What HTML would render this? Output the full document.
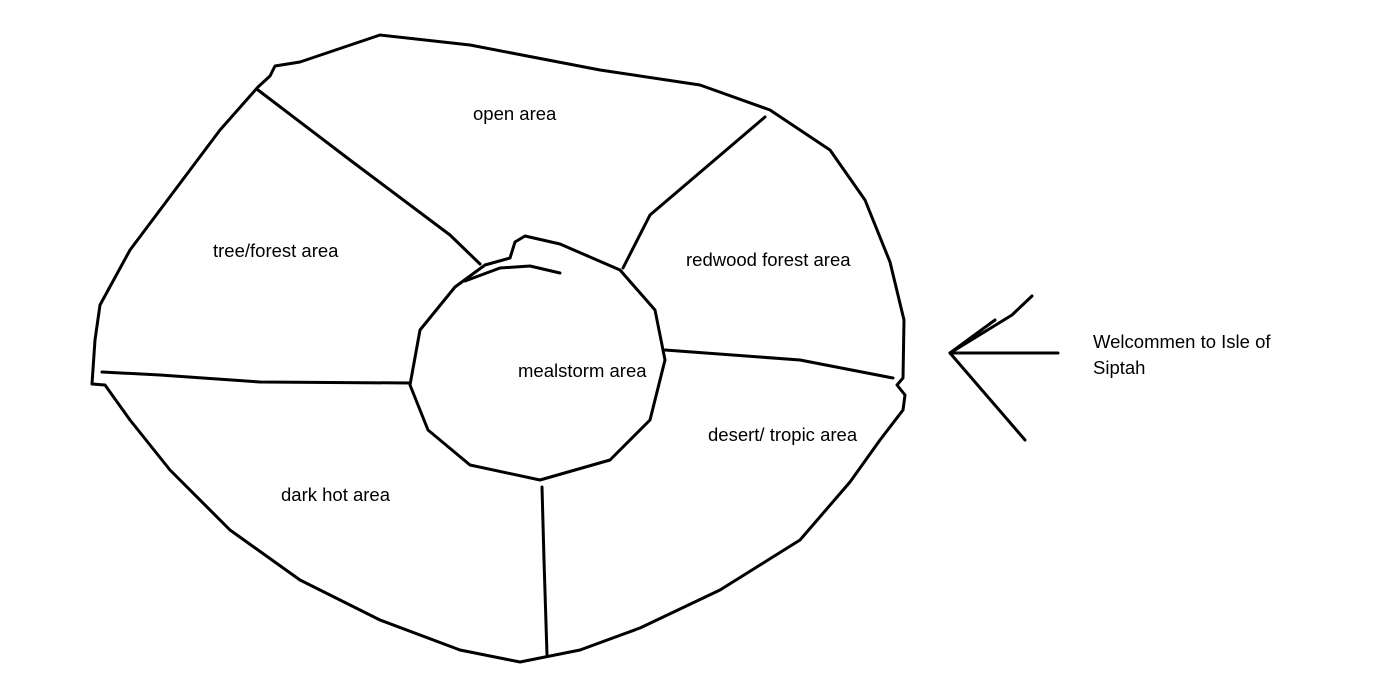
<!DOCTYPE html>
<html><head><meta charset="utf-8"><style>
html,body{margin:0;padding:0;background:#fff;}
svg{display:block;}
text{font-family:"Liberation Sans",sans-serif;font-size:18.5px;fill:#000;}
</style></head><body>
<svg width="1375" height="683" viewBox="0 0 1375 683" xmlns="http://www.w3.org/2000/svg">
<g fill="none" stroke="#000" stroke-width="3" stroke-linejoin="round" stroke-linecap="round">
<path d="M270,76 L275,66 L300,62 L380,35 L470,45 L600,70 L700,85 L770,110 L830,150 L865,200 L890,262 L904,320 L903,378 L897,385 L905,395 L903,410 L880,440 L850,482 L800,540 L720,590 L640,628 L580,650 L520,662 L460,650 L380,620 L300,580 L230,530 L170,470 L130,420 L105,385 L92,384 L95,340 L100,305 L130,250 L175,190 L220,130 L258,87 Z"/>
<path d="M485,265 L510,258 L515,242 L525,236 L560,244 L620,270 L655,310 L665,360 L650,420 L610,460 L540,480 L470,465 L428,430 L410,385 L420,330 L455,287 Z"/>
<path d="M465,281 L500,268 L530,266 L560,273"/>
<path d="M258,90 L350,160 L450,235 L480,264"/>
<path d="M765,117 L650,215 L623,268"/>
<path d="M665,350 L800,360 L893,378"/>
<path d="M102,372 L160,375 L260,382 L410,383"/>
<path d="M542,487 L544,560 L547,655"/>
<path d="M950,353 L1058,353"/>
<path d="M950,353 L1025,440"/>
<path d="M950,353 L995,320"/>
<path d="M955,350 L1012,315 L1032,296"/>
</g>
<text x="473" y="120">open area</text>
<text x="213" y="257">tree/forest area</text>
<text x="686" y="266">redwood forest area</text>
<text x="518" y="377">mealstorm area</text>
<text x="708" y="441">desert/ tropic area</text>
<text x="281" y="501">dark hot area</text>
<text x="1093" y="348">Welcommen to Isle of</text>
<text x="1093" y="374">Siptah</text>
</svg>
</body></html>
